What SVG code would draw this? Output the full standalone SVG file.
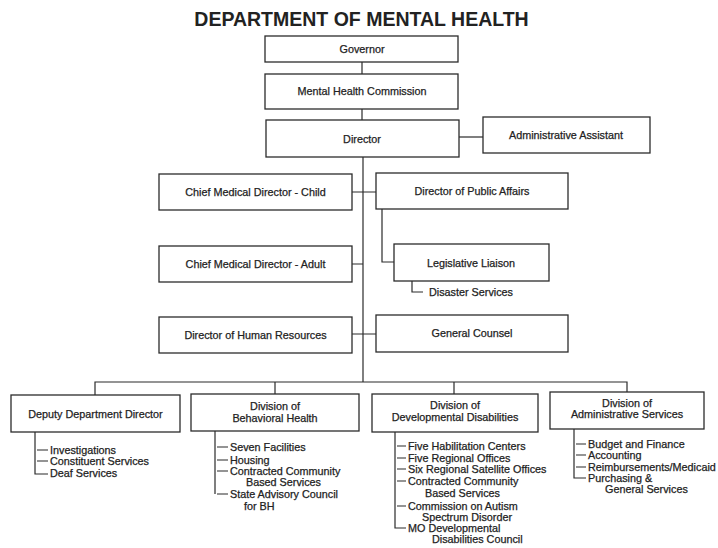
<svg xmlns="http://www.w3.org/2000/svg" width="718" height="548" viewBox="0 0 718 548">
<style>
.bg{fill:#ffffff}
.box{fill:#ffffff;stroke:#2b2b2b;stroke-width:1.3}
.ln{fill:none;stroke:#2b2b2b;stroke-width:1.2}
.t{font-family:"Liberation Sans",Arial,sans-serif;font-size:10.8px;fill:#222;text-anchor:middle;stroke:#222;stroke-width:0.25}
.l{font-family:"Liberation Sans",Arial,sans-serif;font-size:10.8px;fill:#222;stroke:#222;stroke-width:0.25}
.title{font-family:"Liberation Sans",Arial,sans-serif;font-size:19.5px;font-weight:bold;fill:#222;text-anchor:middle}
</style>
<rect class="bg" x="0" y="0" width="718" height="548"/>
<text class="title" x="361.5" y="26">DEPARTMENT OF MENTAL HEALTH</text>

<g id="connectors">
<path class="ln" d="M362 62V74M362 109V120"/>
<path class="ln" d="M459 137H483"/>
<path class="ln" d="M363 157V382"/>
<path class="ln" d="M352 192H376M352 264H363M352 334H376"/>
<path class="ln" d="M382 209V262H394"/>
<path class="ln" d="M412 281V292H423"/>
<path class="ln" d="M95 395V382H627V392M275 382V394M454 382V394"/>
<path class="ln" d="M35 432V474H48M37 450H48M37 461H48"/>
<path class="ln" d="M215 431V494M217 447H228M217 460H228M217 471H228M217 494H228"/>
<path class="ln" d="M395 432V528H406M397 446H406M397 458H406M397 469H406M397 481H406M397 506H406"/>
<path class="ln" d="M574 429V478H586M576 444H586M576 455H586M576 467H586"/>
</g>

<g id="governor"><rect class="box" x="265" y="36" width="193" height="26"/><text class="t" x="362" y="53">Governor</text></g>
<g id="commission"><rect class="box" x="265" y="74" width="193" height="35"/><text class="t" x="362" y="95">Mental Health Commission</text></g>
<g id="director"><rect class="box" x="266" y="120" width="193" height="37"/><text class="t" x="362" y="143">Director</text></g>
<g id="admin-assistant"><rect class="box" x="483" y="117" width="167" height="36"/><text class="t" x="566" y="139">Administrative Assistant</text></g>
<g id="cmd-child"><rect class="box" x="159" y="174" width="193" height="36"/><text class="t" x="255.5" y="196">Chief Medical Director - Child</text></g>
<g id="public-affairs"><rect class="box" x="376" y="173" width="192" height="36"/><text class="t" x="472" y="195">Director of Public Affairs</text></g>
<g id="legislative-liaison"><rect class="box" x="394" y="244" width="155" height="37"/><text class="t" x="471" y="267">Legislative Liaison</text></g>
<g id="disaster-services"><text class="l" x="429" y="296">Disaster Services</text></g>
<g id="cmd-adult"><rect class="box" x="159" y="246" width="193" height="36"/><text class="t" x="255.5" y="268">Chief Medical Director - Adult</text></g>
<g id="human-resources"><rect class="box" x="159" y="317" width="193" height="36"/><text class="t" x="255.5" y="339">Director of Human Resources</text></g>
<g id="general-counsel"><rect class="box" x="376" y="315" width="192" height="37"/><text class="t" x="472" y="337">General Counsel</text></g>

<g id="deputy"><rect class="box" x="11" y="395" width="169" height="37"/><text class="t" x="95.5" y="418">Deputy Department Director</text>
<text class="l" x="50" y="454">Investigations</text>
<text class="l" x="50" y="465">Constituent Services</text>
<text class="l" x="50" y="477">Deaf Services</text></g>

<g id="behavioral-health"><rect class="box" x="191" y="394" width="168" height="37"/><text class="t" x="275" y="410">Division of</text><text class="t" x="275" y="422">Behavioral Health</text>
<text class="l" x="230" y="451">Seven Facilities</text>
<text class="l" x="230" y="464">Housing</text>
<text class="l" x="230" y="475">Contracted Community</text>
<text class="l" x="246" y="486">Based Services</text>
<text class="l" x="230" y="498">State Advisory Council</text>
<text class="l" x="244" y="510">for BH</text></g>

<g id="developmental-disabilities"><rect class="box" x="372" y="394" width="166" height="38"/><text class="t" x="455" y="409">Division of</text><text class="t" x="455" y="421">Developmental Disabilities</text>
<text class="l" x="408" y="450">Five Habilitation Centers</text>
<text class="l" x="408" y="462">Five Regional Offices</text>
<text class="l" x="408" y="473">Six Regional Satellite Offices</text>
<text class="l" x="408" y="485">Contracted Community</text>
<text class="l" x="425" y="497">Based Services</text>
<text class="l" x="408" y="510">Commission on Autism</text>
<text class="l" x="422" y="521">Spectrum Disorder</text>
<text class="l" x="408" y="532">MO Developmental</text>
<text class="l" x="432" y="543">Disabilities Council</text></g>

<g id="administrative-services"><rect class="box" x="550" y="392" width="154" height="37"/><text class="t" x="627" y="407">Division of</text><text class="t" x="627" y="418">Administrative Services</text>
<text class="l" x="588" y="448">Budget and Finance</text>
<text class="l" x="588" y="459">Accounting</text>
<text class="l" x="588" y="471">Reimbursements/Medicaid</text>
<text class="l" x="588" y="482">Purchasing &amp;</text>
<text class="l" x="605" y="493">General Services</text></g>
</svg>
